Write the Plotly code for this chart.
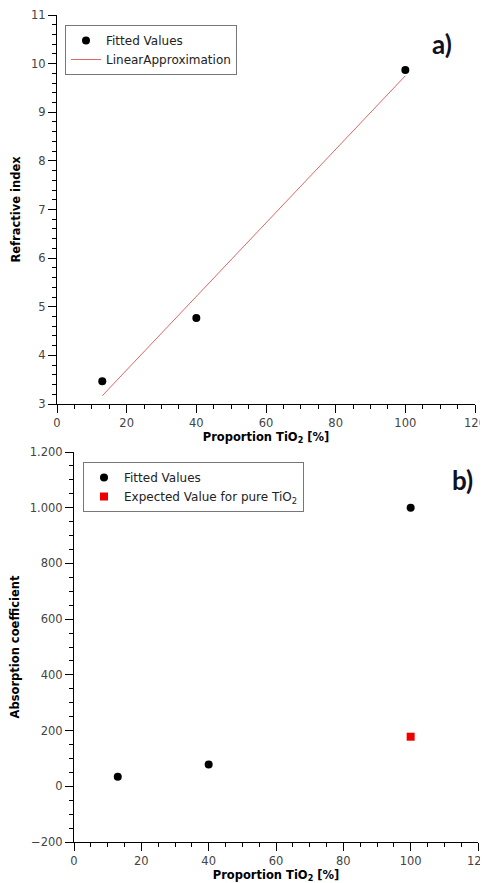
import plotly.graph_objects as go

# ---- data ----
prop_fit = [13, 40, 100]
n_fit = [3.47, 4.77, 9.87]
prop_lin = [13, 100]
n_lin = [3.17, 9.75]
prop_abs = [13, 40, 100]
abs_fit = [34, 78, 1000]
prop_exp = [100]
abs_exp = [178]

# page has an 8px body margin; figure sized so it fills the window
OFF = 8
W, H = 488 - OFF, 883 - OFF

def px_x(p):
    return (p - OFF) / W

def px_y(p):
    return 1 - (p - OFF) / H

fig = go.Figure()
fig.add_trace(go.Scatter(x=prop_fit, y=n_fit, mode="markers", name="Fitted Values",
                         marker=dict(color="black", size=8, symbol="circle"),
                         xaxis="x", yaxis="y", legend="legend"))
fig.add_trace(go.Scatter(x=prop_lin, y=n_lin, mode="lines", name="LinearApproximation",
                         line=dict(color="#e06666", width=1),
                         xaxis="x", yaxis="y", legend="legend"))
fig.add_trace(go.Scatter(x=prop_abs, y=abs_fit, mode="markers", name="Fitted Values",
                         marker=dict(color="black", size=8, symbol="circle"),
                         xaxis="x2", yaxis="y2", legend="legend2"))
fig.add_trace(go.Scatter(x=prop_exp, y=abs_exp, mode="markers",
                         name="Expected Value for pure TiO<sub>2</sub>",
                         marker=dict(color="#ee0000", size=8, symbol="square"),
                         xaxis="x2", yaxis="y2", legend="legend2"))

tickfont = dict(family="DejaVu Sans", size=11.5, color="#444444")
titlefont = dict(family="DejaVu Sans", size=11.5, color="black", weight="bold")

axis_common = dict(showline=True, linecolor="black", linewidth=1, ticks="outside",
                   ticklen=8, tickcolor="black", tickwidth=1, showgrid=False,
                   zeroline=False, tickfont=tickfont, mirror=False, automargin=False,
                   ticklabeloverflow="allow")

legend_font = dict(family="DejaVu Sans", size=12, color="#222222")

fig.update_layout(
    width=W, height=H, autosize=False,
    margin=dict(l=0, r=0, t=0, b=0),
    paper_bgcolor="white", plot_bgcolor="white",
    separators=",.",
    xaxis=dict(domain=[px_x(57), px_x(475)], range=[0, 120], dtick=20, tick0=0,
               anchor="y", title=dict(text="Proportion TiO<sub>2</sub> [%]", font=titlefont, standoff=1),
               minor=dict(dtick=5, ticks="outside", ticklen=4, tickcolor="black"),
               **axis_common),
    yaxis=dict(domain=[px_y(404), px_y(15)], range=[3, 11], dtick=1, tick0=3,
               anchor="x", title=dict(text="Refractive index", font=titlefont, standoff=8),
               minor=dict(dtick=0.2, ticks="outside", ticklen=4, tickcolor="black"),
               **axis_common),
    xaxis2=dict(domain=[px_x(74), px_x(478)], range=[0, 120], dtick=20, tick0=0,
                anchor="y2", title=dict(text="Proportion TiO<sub>2</sub> [%]", font=titlefont, standoff=3),
                minor=dict(dtick=5, ticks="outside", ticklen=4, tickcolor="black"),
                **axis_common),
    yaxis2=dict(domain=[px_y(842), px_y(452)], range=[-200, 1200], dtick=200, tick0=0,
                tickformat=",d",
                anchor="x2", title=dict(text="Absorption coefficient", font=titlefont, standoff=8),
                minor=dict(dtick=50, ticks="outside", ticklen=4, tickcolor="black"),
                **axis_common),
    legend=dict(x=px_x(65), y=px_y(25), xanchor="left", yanchor="top",
                bordercolor="#777777", borderwidth=1, bgcolor="white",
                font=legend_font, tracegroupgap=0, itemwidth=30),
    legend2=dict(x=px_x(83), y=px_y(462), xanchor="left", yanchor="top",
                 bordercolor="#777777", borderwidth=1, bgcolor="white",
                 font=legend_font, tracegroupgap=0, itemwidth=30),
    showlegend=True,
    annotations=[
        dict(text="<b>a)</b>", x=px_x(442), y=px_y(44), xref="paper", yref="paper",
             showarrow=False, xanchor="center", yanchor="middle",
             font=dict(family="Lato", size=26, color="#111122")),
        dict(text="<b>b)</b>", x=px_x(462), y=px_y(480), xref="paper", yref="paper",
             showarrow=False, xanchor="center", yanchor="middle",
             font=dict(family="Lato", size=26, color="#111122")),
    ],
)

fig.write_html("out.html")
